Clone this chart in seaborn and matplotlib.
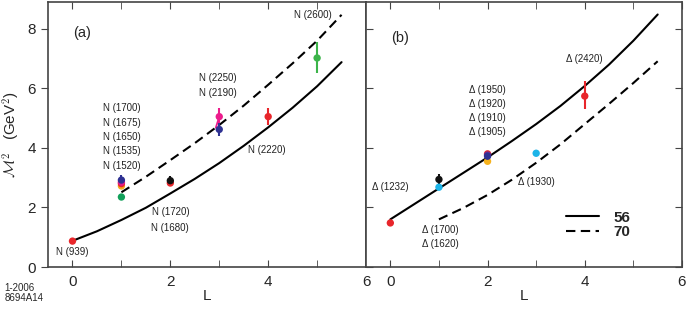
import numpy as np
import pandas as pd
import seaborn as sns
import matplotlib.pyplot as plt
from matplotlib.lines import Line2D

# curves (L, M^2)
L_full = [0, 0.5, 1, 1.5, 2, 2.5, 3, 3.5, 4, 4.5, 5, 5.5]
L_part = [1, 1.5, 2, 2.5, 3, 3.5, 4, 4.5, 5, 5.5]
a_solid = [0.88, 1.20, 1.58, 1.99, 2.47, 2.96, 3.49, 4.07, 4.69, 5.35, 6.07, 6.88]
a_dash = [2.51, 3.03, 3.59, 4.16, 4.77, 5.42, 6.12, 6.84, 7.60, 8.47]
b_solid = [1.60, 2.12, 2.64, 3.16, 3.68, 4.23, 4.80, 5.41, 6.08, 6.80, 7.60, 8.48]
b_dash = [1.60, 1.98, 2.42, 2.93, 3.50, 4.12, 4.80, 5.48, 6.18, 6.91]

# data points: L, M^2, error low, error high, colour
a_L = [0, 1, 1, 1, 1, 1, 2, 2, 3, 3, 4, 5]
a_M2 = [0.87, 2.35, 2.72, 2.80, 2.85, 2.92, 2.82, 2.90, 4.62, 5.05, 5.05, 7.02]
a_lo = [0, 0, 0, 0, 0, 0.17, 0, 0.15, 0.22, 0.2, 0.28, 0.5]
a_hi = [0, 0, 0, 0, 0, 0.17, 0, 0.15, 0.22, 0.3, 0.3, 0.55]
a_col = ['#e8262b', '#12a05a', '#f6a81c', '#e8262b', '#e21c8c', '#2e3192',
         '#e8262b', '#111111', '#2e3192', '#ec1c8c', '#e8262b', '#3cb44a']

b_L = [0, 1, 1, 2, 2, 2, 2, 3, 4]
b_M2 = [1.48, 2.68, 2.94, 3.55, 3.80, 3.76, 3.72, 3.82, 5.74]
b_lo = [0, 0, 0.16, 0, 0, 0, 0, 0, 0.45]
b_hi = [0, 0, 0.2, 0, 0, 0, 0, 0, 0.5]
b_col = ['#e8262b', '#1cb4e8', '#111111', '#f6b21c', '#e8262b', '#6a2c91',
         '#2e3192', '#1cb4e8', '#e8262b']

a_labels = [('N (939)', 0, 0.5),
            ('N (1700)', 1, 5.34), ('N (1675)', 1, 4.85), ('N (1650)', 1, 4.37),
            ('N (1535)', 1, 3.88), ('N (1520)', 1, 3.40),
            ('N (1720)', 2, 1.84), ('N (1680)', 2, 1.32),
            ('N (2250)', 2.98, 6.34), ('N (2190)', 2.98, 5.86),
            ('N (2220)', 3.97, 3.92), ('N (2600)', 4.92, 8.45)]
b_labels = [('Δ (1232)', 0.0, 2.7),
            ('Δ (1700)', 1.02, 1.25), ('Δ (1620)', 1.02, 0.77),
            ('Δ (1950)', 2.0, 5.96), ('Δ (1920)', 2.0, 5.48),
            ('Δ (1910)', 2.0, 5.0), ('Δ (1905)', 2.0, 4.52),
            ('Δ (1930)', 3.0, 2.87), ('Δ (2420)', 4.0, 7.0)]

sns.set_style('ticks')
plt.rcParams['font.family'] = ['Liberation Sans', 'DejaVu Sans']
plt.rcParams['mathtext.fontset'] = 'cm'

fig = plt.figure(figsize=(6.87, 3.12), dpi=100)
ax1 = fig.add_axes([0.0699, 0.1442, 0.4629, 0.8494])
ax2 = fig.add_axes([0.5328, 0.1442, 0.4599, 0.8494])

lw = 1.5
for ax, Ls, sol, Ld, das in [(ax1, L_full, a_solid, L_part, a_dash),
                             (ax2, L_full, b_solid, L_part, b_dash)]:
    sns.lineplot(x=Ls, y=sol, ax=ax, color='black', lw=lw)
    sns.lineplot(x=Ld, y=das, ax=ax, color='black', lw=lw, dashes=False)
    ax.lines[-1].set_dashes((4.5, 2.6))

for ax, L, M2, lo, hi, col in [(ax1, a_L, a_M2, a_lo, a_hi, a_col),
                               (ax2, b_L, b_M2, b_lo, b_hi, b_col)]:
    df = pd.DataFrame({'L': L, 'M2': M2, 'lo': lo, 'hi': hi, 'c': col})
    for _, r in df.iterrows():
        if r['lo'] > 0:
            ax.vlines(r['L'], r['M2'] - r['lo'], r['M2'] + r['hi'],
                      color=r['c'], lw=1.5, zorder=3)
    sns.scatterplot(data=df, x='L', y='M2', hue='c', palette=dict(zip(col, col)),
                    ax=ax, s=28, edgecolor='none', legend=False, zorder=4)

# small slanted magenta stroke at L=3
ax1.plot([2.93, 3.0], [4.68, 5.05], color='#ec1c8c', lw=1.3, zorder=3)

for t, x, y in a_labels:
    ax1.text(x, y, t, fontsize=7, ha='center', va='center', color='#222222')
for t, x, y in b_labels:
    ax2.text(x, y, t, fontsize=7, ha='center', va='center', color='#222222')

ax1.text(0.2, 7.87, '(a)', fontsize=10.5, ha='center', va='center')
ax2.text(0.2, 7.7, '(b)', fontsize=10.5, ha='center', va='center')

for ax in (ax1, ax2):
    ax.set_xlim(-0.5, 6)
    ax.set_ylim(0, 8.9)
    ax.set_xticks([0, 2, 4, 6])
    ax.set_xticks([1, 3, 5], minor=True)
    ax.set_yticks([0, 2, 4, 6, 8])
    ax.tick_params(axis='x', which='both', direction='in', top=True, length=5,
                   labelsize=11, pad=6, color='#444444')
    ax.tick_params(axis='x', which='minor', length=5)
    for s in ax.spines.values():
        s.set_linewidth(1.2)
        s.set_color('#444444')
    ax.set_xlabel('L', fontsize=11, labelpad=0)
    ax.set_ylabel('')

ax1.tick_params(axis='y', direction='out', length=5, labelsize=11, color='#444444')
ax2.tick_params(axis='y', direction='in', left=True, right=True, length=5,
                labelleft=False, color='#444444')
ax1.set_ylabel(r'$\mathcal{M}^2$   (GeV$^2$)', fontsize=11, labelpad=4)

handles = [Line2D([], [], color='black', lw=lw),
           Line2D([], [], color='black', lw=lw, dashes=(4.5, 2.6))]
ax2.legend(handles, ['56', '70'], loc='lower right', bbox_to_anchor=(0.86, 0.075),
           frameon=False, prop={'weight': 'bold', 'size': 11}, handlelength=2.2,
           handletextpad=0.9, labelspacing=0.05, borderpad=0)

fig.text(0.007, 0.06, '1-2006\n8694A14', fontsize=7, va='center', linespacing=1.0)

fig.savefig('out.png', dpi=100)
